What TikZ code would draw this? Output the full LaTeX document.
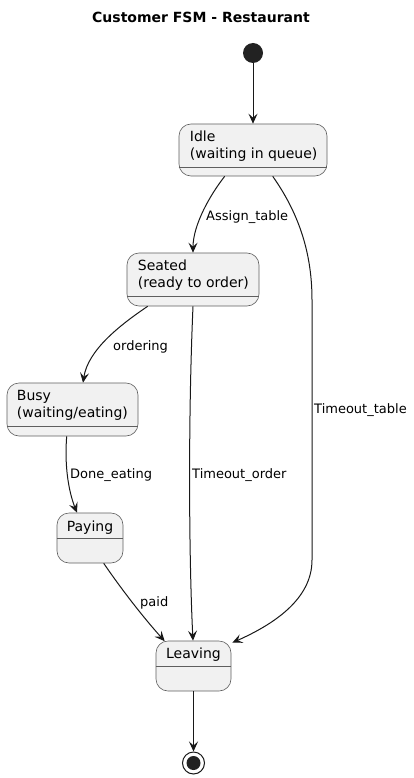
\documentclass[tikz,border=0pt]{standalone}
\usepackage{fontspec}
\setmainfont{DejaVu Sans}
\usetikzlibrary{arrows.meta,calc}
\definecolor{stfill}{HTML}{F1F1F1}
\definecolor{ink}{HTML}{181818}
\definecolor{boxline}{HTML}{5E5E5E}
\definecolor{dot}{HTML}{222222}
\begin{document}
\begin{tikzpicture}[x=1pt,y=-1pt,
  statebox/.style={draw=boxline, fill=stfill, line width=0.6pt, rounded corners=12pt, inner sep=0pt},
  sepline/.style={draw=boxline, line width=0.6pt},
  stext/.style={inner sep=0pt, font=\fontsize{14pt}{16pt}\selectfont, text=black},
  elabel/.style={inner sep=0pt, anchor=base west, font=\fontsize{13pt}{15pt}\selectfont, text=black},
  edge/.style={draw=ink, line width=1pt, -{Stealth[length=10pt,width=9pt,inset=4pt]}},
]
\useasboundingbox (0,0) rectangle (413,778);

% title
\node[inner sep=0pt, anchor=base, font=\bfseries\fontsize{14pt}{16pt}\selectfont] (title) at (201,23) {Customer FSM - Restaurant};

% start / end
\node[circle, fill=dot, inner sep=0pt, minimum size=20pt] (start) at (253,53) {};
\node[circle, draw=ink, fill=white, line width=1pt, inner sep=0pt, minimum size=22pt] (end) at (193.5,763) {};
\node[circle, fill=dot, inner sep=0pt, minimum size=14pt] (endin) at (end.center) {};

% states
\node[statebox, minimum width=148pt, minimum height=52pt] (idle) at (253,150) {};
\draw[sepline] ($(idle.west)+(0,17)$) -- ($(idle.east)+(0,17)$);
\node[stext, anchor=base west] (idle1) at ($(idle.north west)+(11,18)$) {Idle};
\node[stext, anchor=base west] (idle2) at ($(idle.north west)+(11,34.5)$) {(waiting in queue)};

\node[statebox, minimum width=132pt, minimum height=53pt] (seated) at (193,279.5) {};
\draw[sepline] ($(seated.west)+(0,17)$) -- ($(seated.east)+(0,17)$);
\node[stext, anchor=base west] (seated1) at ($(seated.north west)+(11,18)$) {Seated};
\node[stext, anchor=base west] (seated2) at ($(seated.north west)+(11,34.5)$) {(ready to order)};

\node[statebox, minimum width=131pt, minimum height=53pt] (busy) at (72.5,409.5) {};
\draw[sepline] ($(busy.west)+(0,17)$) -- ($(busy.east)+(0,17)$);
\node[stext, anchor=base west] (busy1) at ($(busy.north west)+(10,18)$) {Busy};
\node[stext, anchor=base west] (busy2) at ($(busy.north west)+(10,34.5)$) {(waiting/eating)};

\node[statebox, minimum width=66pt, minimum height=50pt] (paying) at (90,538) {};
\draw[sepline] ($(paying.west)+(0,0.5)$) -- ($(paying.east)+(0,0.5)$);
\node[stext, anchor=base] (paying1) at ($(paying.north)+(0,18.5)$) {Paying};

\node[statebox, minimum width=75pt, minimum height=50pt] (leaving) at (193.5,666) {};
\draw[sepline] ($(leaving.west)+(0,0.5)$) -- ($(leaving.east)+(0,0.5)$);
\node[stext, anchor=base] (leaving1) at ($(leaving.north)+(0,17.5)$) {Leaving};

% transitions
\draw[edge] (start) -- (idle);
\draw[edge] ($(idle.south west)+(46,0)$) .. controls (210,195) and (193,225) .. (seated.north);
\node[elabel] (lassign) at (206,220) {Assign\_table};

\draw[edge] ($(idle.south west)+(94,0)$) .. controls (300,215) and (312,255) .. (312,300)
  -- (312,560) .. controls (312,600) and (272,625) .. ($(leaving.north east)+(1,2)$);
\node[elabel] (ltable) at (314,413) {Timeout\_table};

\draw[edge] ($(seated.south west)+(21,0)$) .. controls (120,325) and (88,350) .. ($(busy.north)+(10.5,0)$);
\node[elabel] (lorder) at (113,350) {ordering};

\draw[edge] (seated.south) .. controls (188,420) and (189,560) .. ($(leaving.north)+(-0.5,0)$);
\node[elabel] (ltorder) at (192,478) {Timeout\_order};

\draw[edge] ($(busy.south west)+(60,0)$) .. controls (64,470) and (70,495) .. ($(paying.north)+(-13,0)$);
\node[elabel] (ldone) at (70,478) {Done\_eating};

\draw[edge] ($(paying.south west)+(47,0)$) .. controls (122,590) and (143,617) .. ($(leaving.north west)+(9,0.5)$);
\node[elabel] (lpaid) at (140,606) {paid};

\draw[edge] (leaving) -- (end);
\end{tikzpicture}
\end{document}
